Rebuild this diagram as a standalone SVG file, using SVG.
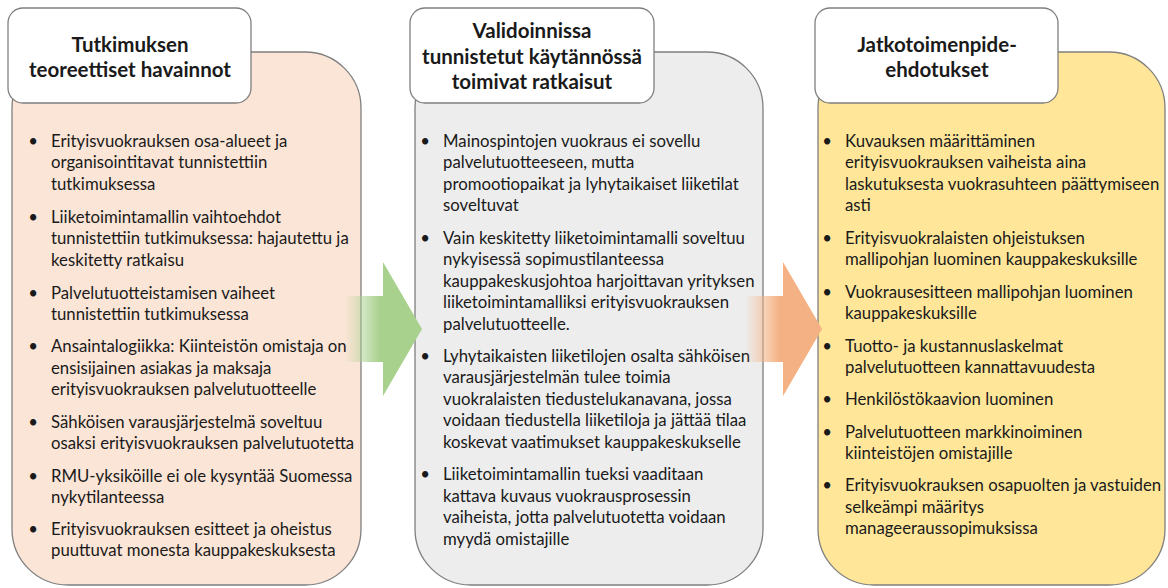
<svg xmlns="http://www.w3.org/2000/svg" width="1168" height="588" viewBox="0 0 1168 588">
  <style>
    .body { stroke: #7f7f7f; stroke-width: 1.3; }
    .head { fill: #ffffff; stroke: #7f7f7f; stroke-width: 1.3; }
    .title { font-family: Lato, "Liberation Sans", sans-serif; font-weight: bold; font-size: 20.5px; fill: #1a1a1a; text-anchor: middle; }
    .item { font-family: Lato, "Liberation Sans", sans-serif; font-size: 16.75px; fill: #1a1a1a; }
    .dot { font-family: Lato, "Liberation Sans", sans-serif; font-size: 16.75px; fill: #1a1a1a; text-anchor: middle; }
  </style>
  <defs>
    <linearGradient id="fadeGreen" x1="0" y1="0" x2="1" y2="0">
      <stop offset="0" stop-color="#a9d18e" stop-opacity="0"/>
      <stop offset="0.45" stop-color="#a9d18e" stop-opacity="1"/>
      <stop offset="1" stop-color="#a9d18e" stop-opacity="1"/>
    </linearGradient>
    <linearGradient id="fadeOrange" x1="0" y1="0" x2="1" y2="0">
      <stop offset="0" stop-color="#f4b183" stop-opacity="0"/>
      <stop offset="0.45" stop-color="#f4b183" stop-opacity="1"/>
      <stop offset="1" stop-color="#f4b183" stop-opacity="1"/>
    </linearGradient>
  </defs>

  <rect width="1168" height="588" fill="#ffffff"/>

  <!-- Column 1: research findings -->
  <g id="findings">
    <rect class="body" x="12" y="52" width="349" height="533" rx="56" fill="#fbe5d6"/>
    <rect class="head" x="8" y="8" width="243" height="95" rx="15"/>
    <text class="title" x="130" y="51.5">Tutkimuksen</text>
    <text class="title" x="130" y="77">teoreettiset havainnot</text>
    <g>
      <text class="dot" x="33" y="146.5">•</text>
      <text class="item" x="51" y="146.5">Erityisvuokrauksen osa-alueet ja</text>
      <text class="item" x="51" y="168">organisointitavat tunnistettiin</text>
      <text class="item" x="51" y="189.5">tutkimuksessa</text>
      <text class="dot" x="33" y="222.5">•</text>
      <text class="item" x="51" y="222.5">Liiketoimintamallin vaihtoehdot</text>
      <text class="item" x="51" y="244">tunnistettiin tutkimuksessa: hajautettu ja</text>
      <text class="item" x="51" y="265.5">keskitetty ratkaisu</text>
      <text class="dot" x="33" y="298.5">•</text>
      <text class="item" x="51" y="298.5">Palvelutuotteistamisen vaiheet</text>
      <text class="item" x="51" y="320">tunnistettiin tutkimuksessa</text>
      <text class="dot" x="33" y="352">•</text>
      <text class="item" x="51" y="352">Ansaintalogiikka: Kiinteistön omistaja on</text>
      <text class="item" x="51" y="373.5">ensisijainen asiakas ja maksaja</text>
      <text class="item" x="51" y="395">erityisvuokrauksen palvelutuotteelle</text>
      <text class="dot" x="33" y="427.5">•</text>
      <text class="item" x="51" y="427.5">Sähköisen varausjärjestelmä soveltuu</text>
      <text class="item" x="51" y="449">osaksi erityisvuokrauksen palvelutuotetta</text>
      <text class="dot" x="33" y="481.5">•</text>
      <text class="item" x="51" y="481.5">RMU-yksiköille ei ole kysyntää Suomessa</text>
      <text class="item" x="51" y="503">nykytilanteessa</text>
      <text class="dot" x="33" y="534.5">•</text>
      <text class="item" x="51" y="534.5">Erityisvuokrauksen esitteet ja oheistus</text>
      <text class="item" x="51" y="556">puuttuvat monesta kauppakeskuksesta</text>
    </g>
  </g>

  <!-- Column 2: solutions validated in practice -->
  <g id="validated">
    <rect class="body" x="415" y="52" width="348" height="533" rx="56" fill="#ededed"/>
    <rect class="head" x="410" y="8" width="244" height="95" rx="15"/>
    <text class="title" x="532" y="38">Validoinnissa</text>
    <text class="title" x="532" y="63.5">tunnistetut käytännössä</text>
    <text class="title" x="532" y="89">toimivat ratkaisut</text>
    <g>
      <text class="dot" x="425" y="146.5">•</text>
      <text class="item" x="443" y="146.5">Mainospintojen vuokraus ei sovellu</text>
      <text class="item" x="443" y="168">palvelutuotteeseen, mutta</text>
      <text class="item" x="443" y="189.5">promootiopaikat ja lyhytaikaiset liiketilat</text>
      <text class="item" x="443" y="211">soveltuvat</text>
      <text class="dot" x="425" y="243.5">•</text>
      <text class="item" x="443" y="243.5">Vain keskitetty liiketoimintamalli soveltuu</text>
      <text class="item" x="443" y="265">nykyisessä sopimustilanteessa</text>
      <text class="item" x="443" y="286.5">kauppakeskusjohtoa harjoittavan yrityksen</text>
      <text class="item" x="443" y="308">liiketoimintamalliksi erityisvuokrauksen</text>
      <text class="item" x="443" y="329.5">palvelutuotteelle.</text>
      <text class="dot" x="425" y="361.5">•</text>
      <text class="item" x="443" y="361.5">Lyhytaikaisten liiketilojen osalta sähköisen</text>
      <text class="item" x="443" y="383">varausjärjestelmän tulee toimia</text>
      <text class="item" x="443" y="404.5">vuokralaisten tiedustelukanavana, jossa</text>
      <text class="item" x="443" y="426">voidaan tiedustella liiketiloja ja jättää tilaa</text>
      <text class="item" x="443" y="447.5">koskevat vaatimukset kauppakeskukselle</text>
      <text class="dot" x="425" y="480">•</text>
      <text class="item" x="443" y="480">Liiketoimintamallin tueksi vaaditaan</text>
      <text class="item" x="443" y="501.5">kattava kuvaus vuokrausprosessin</text>
      <text class="item" x="443" y="523">vaiheista, jotta palvelutuotetta voidaan</text>
      <text class="item" x="443" y="544.5">myydä omistajille</text>
    </g>
  </g>

  <!-- Column 3: follow-up proposals -->
  <g id="proposals">
    <rect class="body" x="818" y="52" width="347" height="533" rx="56" fill="#ffe699"/>
    <rect class="head" x="815" y="8" width="243" height="95" rx="15"/>
    <text class="title" x="937" y="51.5">Jatkotoimenpide-</text>
    <text class="title" x="937" y="77">ehdotukset</text>
    <g>
      <text class="dot" x="827" y="146.5">•</text>
      <text class="item" x="845" y="146.5">Kuvauksen määrittäminen</text>
      <text class="item" x="845" y="168">erityisvuokrauksen vaiheista aina</text>
      <text class="item" x="845" y="189.5">laskutuksesta vuokrasuhteen päättymiseen</text>
      <text class="item" x="845" y="211">asti</text>
      <text class="dot" x="827" y="243.5">•</text>
      <text class="item" x="845" y="243.5">Erityisvuokralaisten ohjeistuksen</text>
      <text class="item" x="845" y="265">mallipohjan luominen kauppakeskuksille</text>
      <text class="dot" x="827" y="297.5">•</text>
      <text class="item" x="845" y="297.5">Vuokrausesitteen mallipohjan luominen</text>
      <text class="item" x="845" y="319">kauppakeskuksille</text>
      <text class="dot" x="827" y="351.5">•</text>
      <text class="item" x="845" y="351.5">Tuotto- ja kustannuslaskelmat</text>
      <text class="item" x="845" y="373">palvelutuotteen kannattavuudesta</text>
      <text class="dot" x="827" y="405">•</text>
      <text class="item" x="845" y="405">Henkilöstökaavion luominen</text>
      <text class="dot" x="827" y="437.5">•</text>
      <text class="item" x="845" y="437.5">Palvelutuotteen markkinoiminen</text>
      <text class="item" x="845" y="459">kiinteistöjen omistajille</text>
      <text class="dot" x="827" y="491">•</text>
      <text class="item" x="845" y="491">Erityisvuokrauksen osapuolten ja vastuiden</text>
      <text class="item" x="845" y="512.5">selkeämpi määritys</text>
      <text class="item" x="845" y="534">manageeraussopimuksissa</text>
    </g>
  </g>

  <!-- Connectors: block arrows between the columns -->
  <g id="connectors">
    <path d="M345,296 L383,296 L383,262 L422,329 L383,396 L383,362 L345,362 Z" fill="url(#fadeGreen)"/>
    <path d="M745,296 L783,296 L783,262 L822,329 L783,396 L783,362 L745,362 Z" fill="url(#fadeOrange)"/>
  </g>
</svg>
